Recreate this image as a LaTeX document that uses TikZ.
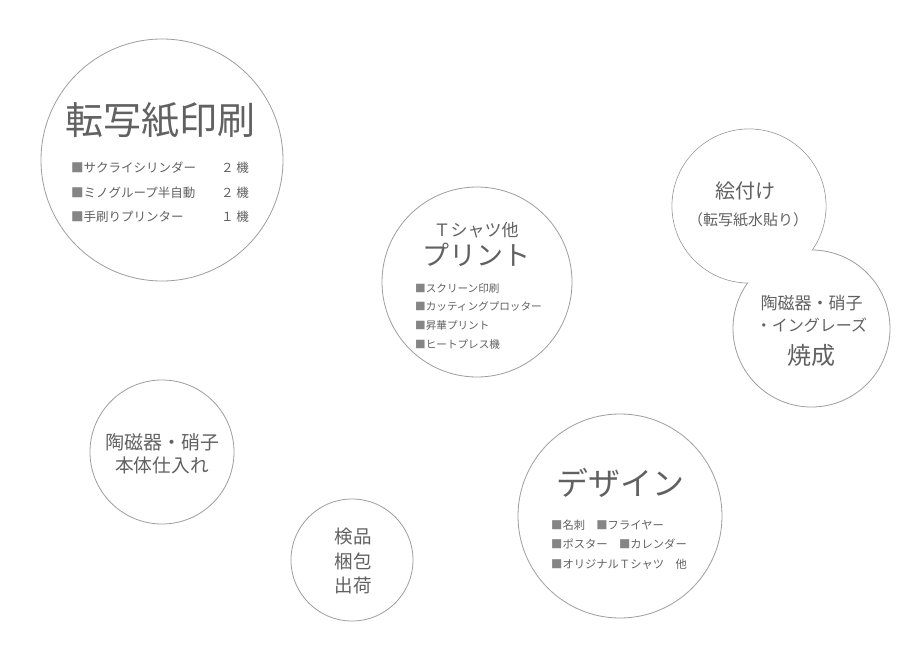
\documentclass[tikz,border=0pt]{standalone}
\usepackage{fontspec}
\setmainfont{Noto Sans CJK JP}
\usetikzlibrary{positioning,matrix}
\colorlet{circleLine}{black!38}
\colorlet{textGray}{black!62}
\colorlet{markGray}{black!48}
\newcommand{\sqMark}{{\color{markGray}■}}
\tikzset{%
  % Specifications for style of nodes:
    baseCircle/.style = {circle,draw=circleLine,line width=0.8pt,fill=white,inner sep=0,outer sep=0},
    pairCover/.style = {circle,fill=white,inner sep=0,outer sep=0},
    labelText/.style = {text=textGray,inner sep=0,font=\fontsize{#1}{#1}\selectfont},
    itemList/.style = {matrix of nodes, inner sep=0, nodes={text=textGray,inner sep=0,font=\fontsize{#1}{#1}\selectfont},
                       column 1/.style={anchor=base west}, column 2/.style={anchor=base east}},
}

\begin{document}
\begin{tikzpicture}[x=1pt,y=-1pt]
	\path[fill=white] (0,0) rectangle (920,650);

	\node [baseCircle, minimum size=242pt] (transfer) at (162,160) {};
	\node [labelText=38, shift={(-2,-40)}] (transferLabel) at (transfer) {転写紙印刷};
	\matrix (transferList) [itemList=12.5, matrix anchor=transferList-1-1.base west, column sep=25pt, row sep={24.5pt,between origins}] at (71,172.8)
	{
		\sqMark サクライシリンダー & ２ 機\\
		\sqMark ミノグループ半自動 & ２ 機\\
		\sqMark 手刷りプリンター & １ 機\\
	};

	\node [baseCircle, minimum size=190pt] (tshirt) at (477,282) {};
	\node [labelText=17, shift={(-1,-52)}] (tshirtLabel) at (tshirt) {Ｔシャツ他};
	\node [labelText=27, shift={(-1,-27)}] (tshirtTitle) at (tshirt) {プリント};
	\matrix (tshirtList) [itemList=10.6, matrix anchor=tshirtList-1-1.base west, row sep={18.7pt,between origins}] at (415,292)
	{
		\sqMark スクリーン印刷\\
		\sqMark カッティングプロッター\\
		\sqMark 昇華プリント\\
		\sqMark ヒートプレス機\\
	};

	\node [baseCircle, minimum size=154pt] (painting) at (749,206) {};
	\node [baseCircle, minimum size=157pt] (firing) at (811.5,328.5) {};
	\node [pairCover, minimum size=153pt] (paintingCover) at (painting) {};
	\node [labelText=20, shift={(-4,-15)}] (paintingLabel) at (painting) {絵付け};
	\node [labelText=15, shift={(-1,14)}] (paintingNote) at (painting) {（転写紙水貼り）};
	\node [labelText=17, shift={(0,-25.5)}] (firingLabel) at (firing) {陶磁器・硝子};
	\node [labelText=16, shift={(0,-3.5)}] (firingNote) at (firing) {・イングレーズ};
	\node [labelText=24, shift={(0,26.5)}] (firingTitle) at (firing) {焼成};

	\node [baseCircle, minimum size=144pt] (stock) at (162,452) {};
	\node [labelText=19, shift={(0,-10)}] (stockLabel) at (stock) {陶磁器・硝子};
	\node [labelText=18.7, shift={(0,13)}] (stockNote) at (stock) {本体仕入れ};

	\node [baseCircle, minimum size=122pt] (shipping) at (352,560) {};
	\node [labelText=18.5, shift={(1,-23)}] (shippingCheck) at (shipping) {検品};
	\node [labelText=18.5, shift={(1,1)}] (shippingPack) at (shipping) {梱包};
	\node [labelText=18.5, shift={(1,25)}] (shippingOut) at (shipping) {出荷};

	\node [baseCircle, minimum size=204pt] (design) at (620,516) {};
	\node [labelText=32, shift={(0,-33)}] (designLabel) at (design) {デザイン};
	\matrix (designList) [itemList=11.3, matrix anchor=designList-1-1.base west, row sep={19.5pt,between origins}] at (551,529.3)
	{
		\sqMark 名刺　\sqMark フライヤー\\
		\sqMark ポスター　\sqMark カレンダー\\
		\sqMark オリジナルＴシャツ　他\\
	};
\end{tikzpicture}
\end{document}
